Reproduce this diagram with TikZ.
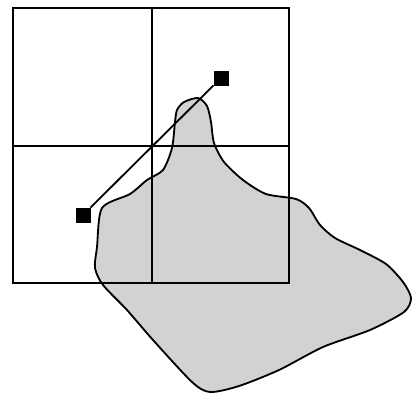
\documentclass[tikz,border=0pt]{standalone}
\tikzset{
  marker/.style={draw,fill=black,minimum size=0.36cm,inner sep=0pt},
  region/.style={fill=gray!35,draw=black,line width=1.3pt},
  gridline/.style={line width=1.3pt}
}
\begin{document}
\begin{tikzpicture}[x=0.025cm,y=-0.025cm]
    \useasboundingbox (0,0) rectangle (412,394);
    % shaded region
    \draw[region] plot[smooth cycle,tension=0.45] coordinates {
        (177,110) (184,102) (198,98) (207,106) (211,122) (214,143)
        (224,162) (243,180) (266,194) (296,199) (309,208) (320,225)
        (335,238) (360,250) (386,264) (403,282) (411,298) (404,312)
        (370,330) (323,347) (279,370) (239,386) (210,392) (192,382)
        (153,340) (127,310) (103,285) (95,268) (97,247) (102,208)
        (130,194) (147,180) (163,170) (172,148) (175,122)};
    % grid
    \draw[gridline] (13,8) rectangle (289,283);
    \draw[gridline] (152,8) -- (152,283);
    \draw[gridline] (13,146) -- (289,146);
    % segment
    \node[marker] (q) at (83,215) {};
    \node[marker] (p) at (221,78) {};
    \draw[gridline] (q) -- (p);
\end{tikzpicture}
\end{document}
